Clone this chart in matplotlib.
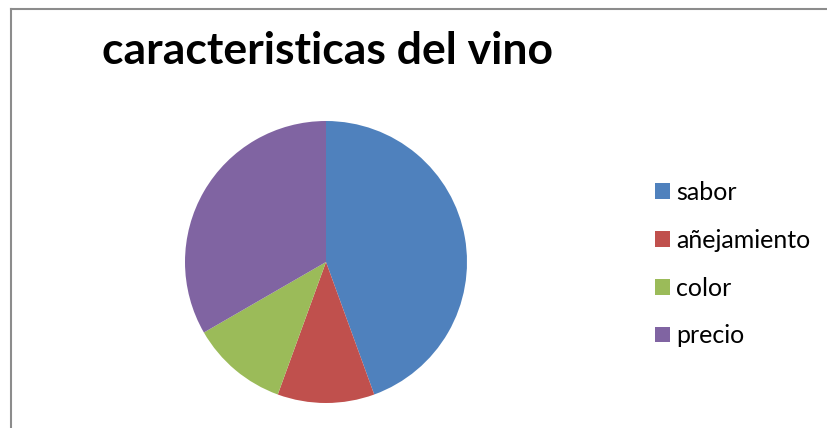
import matplotlib
matplotlib.use("Agg")
import matplotlib.pyplot as plt
from matplotlib.patches import Patch
from matplotlib.lines import Line2D

categories = ["sabor", "añejamiento", "color", "precio"]
values = [4, 1, 1, 3]
colors = ["#4F81BD", "#C0504D", "#9BBB59", "#8064A2"]
title = "caracteristicas del vino"

W, H = 827, 428
fig = plt.figure(figsize=(W / 100, H / 100), dpi=100)

# chart border (only top and left visible in the crop)
fig.add_artist(Line2D([11 / W, 11 / W], [0, 1 - 9 / H], color="#8c8c8c", lw=1.5))
fig.add_artist(Line2D([11 / W, 1], [1 - 9 / H, 1 - 9 / H], color="#8c8c8c", lw=1.5))

cx, cy, r = 326, 262, 141
ax = fig.add_axes([(cx - r) / W, (H - cy - r) / H, 2 * r / W, 2 * r / H])
ax.pie(values, colors=colors, startangle=90, counterclock=False, radius=1,
       wedgeprops={"linewidth": 0})
ax.set_xlim(-1, 1)
ax.set_ylim(-1, 1)
ax.set_aspect("equal")
ax.axis("off")

fig.text(327 / W, 1 - 64 / H, title, ha="center", va="baseline",
         fontsize=32, fontweight="bold", family="Lato")

handles = [Patch(facecolor=c, edgecolor="none") for c in colors]
fig.legend(handles, categories, loc="upper left", bbox_to_anchor=(645 / W, 1 - 171 / H),
           frameon=False, prop={"family": "Lato", "size": 18},
           handlelength=0.6, handleheight=0.6, handletextpad=0.25,
           labelspacing=0.99, borderaxespad=0)

fig.savefig("out.png", dpi=100)
